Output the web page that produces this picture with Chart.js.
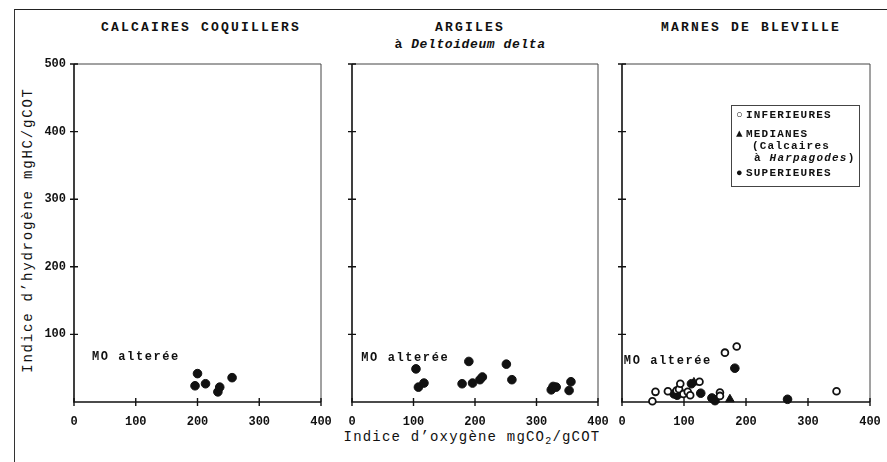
<!DOCTYPE html>
<html><head><meta charset="utf-8">
<script src="https://cdn.jsdelivr.net/npm/chart.js@4.4.1/dist/chart.umd.min.js"></script>
<style>
html,body{margin:0;padding:0;background:#fff;}
body{width:887px;height:462px;position:relative;overflow:hidden;font-family:"Liberation Mono","DejaVu Sans Mono",monospace;color:#111;}
.frame{position:absolute;left:14px;top:9px;width:900px;height:470px;border-left:1px solid #333;border-top:1.5px solid #222;}
.t{position:absolute;white-space:nowrap;font-weight:bold;transform:translate(-50%,-50%);}
.title{font-size:13px;letter-spacing:2.2px;}
.cv{position:absolute;}
.legend{position:absolute;left:731px;top:105px;width:129px;height:82px;border:1px solid #444;box-sizing:border-box;font-weight:bold;font-size:11px;}
.legend span{position:absolute;white-space:nowrap;transform:translateY(-50%);letter-spacing:1.2px;}
</style></head>
<body>
<div class="frame"></div>
<div class="t title" style="left:201px;top:27px;">CALCAIRES COQUILLERS</div>
<div class="t title" style="left:470px;top:27px;">ARGILES</div>
<div class="t title" style="left:470px;top:44px;letter-spacing:0.6px;">à <i>Deltoideum delta</i></div>
<div class="t title" style="left:751px;top:27px;">MARNES DE BLEVILLE</div>
<div class="t" style="left:28px;top:230px;transform:translate(-50%,-50%) rotate(-90deg);font-size:14px;letter-spacing:1.8px;font-weight:normal;">Indice d’hydrogène mgHC/gCOT</div>
<div class="t" style="left:472px;top:438px;font-size:14px;letter-spacing:1.2px;font-weight:normal;">Indice d’oxygène mgCO<sub style="font-size:10px;">2</sub>/gCOT</div>

<div class="cv" style="left:34px;top:54px;"><canvas id="c1" width="301" height="378"></canvas></div>
<div class="cv" style="left:312px;top:54px;"><canvas id="c2" width="300" height="378"></canvas></div>
<div class="cv" style="left:582px;top:54px;"><canvas id="c3" width="302" height="378"></canvas></div>

<div class="legend">
  <span style="left:4px;top:9px;">○</span><span style="left:14px;top:9px;">INFERIEURES</span>
  <span style="left:4px;top:28px;">▲</span><span style="left:14px;top:28px;">MEDIANES</span>
  <span style="left:20px;top:40px;">(Calcaires</span>
  <span style="left:22px;top:52px;">à <i>Harpagodes</i>)</span>
  <span style="left:4px;top:67px;">●</span><span style="left:14px;top:67px;">SUPERIEURES</span>
</div>

<script>
// ---- data ----
const xTicks = [0, 100, 200, 300, 400];
const yTicks = [100, 200, 300, 400, 500];

// Calcaires coquillers (OI, HI)
const calcOI = [196, 200, 213, 233, 236, 256];
const calcHI = [24, 42, 27, 15, 22, 36];

// Argiles à Deltoideum delta
const argOI = [104, 108, 117, 179, 190, 196, 208, 212, 251, 260, 324, 327, 332, 353, 356];
const argHI = [49, 22, 28, 27, 60, 28, 33, 37, 56, 33, 18, 23, 22, 17, 30];

// Marnes de Bléville - inférieures (open circles)
const infOI = [49, 54, 74, 88, 92, 94, 99, 106, 110, 125, 158, 158, 166, 185, 346];
const infHI = [1, 15, 16, 17, 19, 27, 12, 15, 10, 30, 14, 9, 73, 82, 16];
// médianes (triangles)
const medOI = [116, 150, 174];
const medHI = [29, 3, 4];
// supérieures (filled circles)
const supOI = [84, 89, 112, 127, 145, 150, 182, 267];
const supHI = [12, 10, 27, 13, 6, 2, 50, 4];

// "MO altérée" annotation anchor (data coordinates) per panel
const moAnchor = [[29, 66], [15, 65], [3, 61]];

// ---- chart helpers ----
const ink = '#111';
const fontMono = '"Liberation Mono","DejaVu Sans Mono",monospace';

function pts(xs, ys){ return xs.map((v,i)=>({x:v, y:ys[i]})); }

const framePlugin = {
  id:'frame',
  beforeDatasetsDraw(chart){
    const {ctx, chartArea:a, scales:{x,y}} = chart;
    ctx.save();
    ctx.strokeStyle = '#444'; ctx.lineWidth = 1;
    ctx.beginPath();
    ctx.moveTo(a.left, a.top); ctx.lineTo(a.right, a.top); ctx.lineTo(a.right, a.bottom);
    ctx.stroke();
    ctx.strokeStyle = ink; ctx.lineWidth = 1.6;
    ctx.beginPath();
    ctx.moveTo(a.left, a.top); ctx.lineTo(a.left, a.bottom); ctx.lineTo(a.right, a.bottom);
    ctx.stroke();
    ctx.lineWidth = 1.4;
    ctx.beginPath();
    xTicks.forEach(v=>{ const px = x.getPixelForValue(v); ctx.moveTo(px, a.bottom-4); ctx.lineTo(px, a.bottom+4); });
    yTicks.forEach(v=>{ const py = y.getPixelForValue(v); ctx.moveTo(a.left-4, py); ctx.lineTo(a.left+4, py); });
    ctx.stroke();
    ctx.restore();
  },
  afterDatasetsDraw(chart, args, opts){
    const {ctx, scales:{x,y}} = chart;
    const [mx, my] = opts.anchor;
    ctx.save();
    ctx.fillStyle = ink;
    ctx.font = 'bold 12px ' + fontMono;
    if ('letterSpacing' in ctx) ctx.letterSpacing = '1.6px';
    ctx.textAlign = 'left'; ctx.textBaseline = 'middle';
    ctx.fillText('MO alterée', x.getPixelForValue(mx), y.getPixelForValue(my));
    ctx.restore();
  }
};

function makeChart(id, datasets, showY, anchor){
  return new Chart(document.getElementById(id), {
    type:'scatter',
    data:{datasets},
    options:{
      responsive:false, animation:false, devicePixelRatio:1,
      layout:{padding:{top:10, right:14, left:0, bottom:0}},
      plugins:{legend:{display:false}, tooltip:{enabled:false}, frame:{anchor}},
      scales:{
        x:{type:'linear', min:0, max:400,
           afterBuildTicks:s=>{ s.ticks = xTicks.map(v=>({value:v})); },
           afterFit:s=>{ s.height = 30; },
           grid:{display:false, drawTicks:true, tickLength:13}, border:{display:false},
           ticks:{color:ink, padding:0, font:{family:fontMono, size:12, weight:'bold'}, maxRotation:0, autoSkip:false}},
        y:{type:'linear', min:0, max:500,
           afterBuildTicks:s=>{ s.ticks = yTicks.map(v=>({value:v})); },
           afterFit:s=>{ s.width = 40; },
           grid:{display:false, drawTicks:true, tickLength:8}, border:{display:false},
           ticks:{display:showY, color:ink, padding:0, font:{family:fontMono, size:12, weight:'bold'}, autoSkip:false}}
      }
    },
    plugins:[framePlugin]
  });
}

const filled = {pointStyle:'circle', pointRadius:4.3, backgroundColor:ink, borderColor:ink, borderWidth:1, clip:false};
const open = {pointStyle:'circle', pointRadius:3.4, backgroundColor:'#fff', borderColor:ink, borderWidth:1.8, clip:false};
const tri = {pointStyle:'triangle', pointRadius:5, backgroundColor:ink, borderColor:ink, borderWidth:1, clip:false};

makeChart('c1', [Object.assign({label:'Calcaires coquillers', data:pts(calcOI, calcHI)}, filled)], true, moAnchor[0]);
makeChart('c2', [Object.assign({label:'Argiles', data:pts(argOI, argHI)}, filled)], false, moAnchor[1]);
makeChart('c3', [
  Object.assign({label:'INFERIEURES', data:pts(infOI, infHI)}, open),
  Object.assign({label:'MEDIANES', data:pts(medOI, medHI)}, tri),
  Object.assign({label:'SUPERIEURES', data:pts(supOI, supHI)}, filled)
], false, moAnchor[2]);
</script>
</body></html>
